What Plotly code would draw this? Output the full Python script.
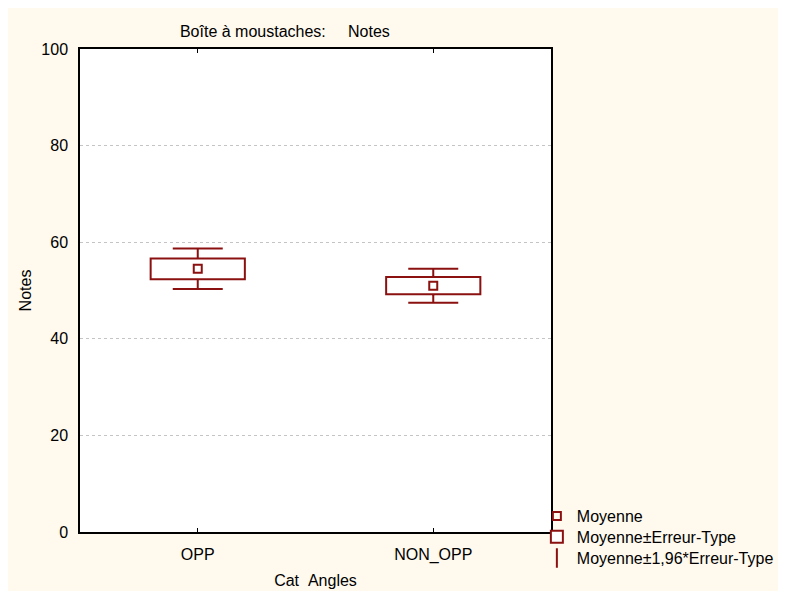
import plotly.graph_objects as go

categories = ["OPP", "NON_OPP"]
means = [54.5, 51.0]
std_errors = [2.15, 1.8]
y_ticks = [0, 20, 40, 60, 80, 100]

RED = "#8b1010"
CREAM = "#fff9ee"
FONT = "Liberation Sans, Arial, sans-serif"
FS = 16

box_base = [m - s for m, s in zip(means, std_errors)]
box_height = [2 * s for s in std_errors]
whisker = [1.96 * s for s in std_errors]

fig = go.Figure()

# Whiskers (mean ± 1.96*SE), drawn on the base axes so the box covers them
fig.add_trace(go.Scatter(
    x=categories, y=means, mode="markers",
    name="Moyenne±1,96*Erreur-Type", legend="legend3",
    marker=dict(symbol="line-ns-open", size=14, color=RED,
                line=dict(color=RED, width=2)),
    error_y=dict(type="data", array=whisker, symmetric=True,
                 color=RED, thickness=2, width=25),
    xaxis="x", yaxis="y", hoverinfo="skip",
))

# Box (mean ± SE) on overlay axes
fig.add_trace(go.Bar(
    x=categories, y=box_height, base=box_base, width=0.4,
    name="Moyenne±Erreur-Type", legend="legend2",
    marker=dict(color="white", line=dict(color=RED, width=2)),
    xaxis="x2", yaxis="y2",
))

# Mean marker
fig.add_trace(go.Scatter(
    x=categories, y=means, mode="markers",
    name="Moyenne", legend="legend",
    marker=dict(symbol="square-open", size=8, color=RED,
                line=dict(color=RED, width=2)),
    xaxis="x2", yaxis="y2",
))

axis_common = dict(
    showline=True, linecolor="black", linewidth=1.5, mirror=True,
    tickfont=dict(family=FONT, size=FS, color="black"),
)

legend_common = dict(
    x=0.97, xanchor="left", yanchor="middle",
    bgcolor="rgba(0,0,0,0)", borderwidth=0,
    font=dict(family=FONT, size=FS, color="black"),
    itemsizing="trace",
)

fig.update_layout(
    width=786, height=591,
    margin=dict(l=72, r=243, t=41, b=59),
    paper_bgcolor=CREAM, plot_bgcolor="white",
    font=dict(family=FONT, size=FS, color="black"),
    showlegend=True,
    title=dict(text="Boîte à moustaches:\u00a0\u00a0\u00a0\u00a0\u00a0Notes",
               x=0.435, xref="paper", xanchor="center",
               y=1 - 23 / 591, yref="container", yanchor="middle",
               font=dict(family=FONT, size=FS, color="black")),
    xaxis=dict(
        type="category", categoryorder="array", categoryarray=categories,
        range=[-0.5, 1.5], ticks="inside", ticklen=4, tickwidth=1,
        tickcolor="black", ticklabelstandoff=7,
        showgrid=False, zeroline=False,
        title=dict(text="Cat\u00a0\u00a0Angles", standoff=12,
                   font=dict(family=FONT, size=FS, color="black")),
        **{**axis_common, "mirror": "ticks"},
    ),
    yaxis=dict(
        range=[0, 100], tickvals=y_ticks, ticks="", ticklabelstandoff=7,
        showgrid=True, gridcolor="#c4c4c4", griddash="dot", gridwidth=1,
        zeroline=False,
        title=dict(text="Notes", standoff=6,
                   font=dict(family=FONT, size=FS, color="black")),
        **axis_common,
    ),
    xaxis2=dict(
        type="category", categoryorder="array", categoryarray=categories,
        range=[-0.5, 1.5], overlaying="x", visible=False,
    ),
    yaxis2=dict(range=[0, 100], overlaying="y", visible=False),
    legend=dict(y=0.033, **legend_common),
    legend2=dict(y=-0.010, **legend_common),
    legend3=dict(y=-0.054, **legend_common),
)

fig.write_html("out.html", config={"displayModeBar": False})
